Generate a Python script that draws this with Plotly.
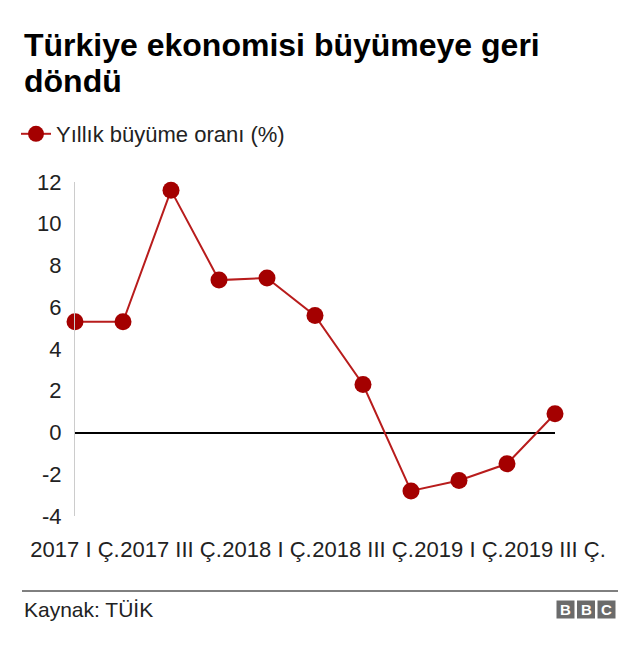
import plotly.graph_objects as go

categories = ["2017 I Ç.", "2017 II Ç.", "2017 III Ç.", "2017 IV Ç.",
              "2018 I Ç.", "2018 II Ç.", "2018 III Ç.", "2018 IV Ç.",
              "2019 I Ç.", "2019 II Ç.", "2019 III Ç."]
growth = [5.3, 5.3, 11.6, 7.3, 7.4, 5.6, 2.3, -2.8, -2.3, -1.5, 0.9]
tick_labels = categories[::2]
y_ticks = [-4, -2, 0, 2, 4, 6, 8, 10, 12]
y_tick_text = ["-4", "-2", "0", "2", "4", "6", "8", "10", "12"]

# page has an 8px body margin; figure is shrunk so page coords match target
OFF = 8
W, H = 640 - OFF, 650 - OFF
L, T = 75 - OFF, 182 - OFF
PW, PH = 480, 334
R, B = W - L - PW, H - T - PH

def xp(px):
    return (px - OFF - L) / PW

def yp(py):
    return (H - B - (py - OFF)) / PH

FONT = "Liberation Sans, Arial, sans-serif"

fig = go.Figure()
fig.add_trace(go.Scatter(
    x=categories, y=growth, mode="lines+markers",
    name="Yıllık büyüme oranı (%)",
    line=dict(color="#b81c1c", width=2),
    marker=dict(color="#a40000", size=17),
    cliponaxis=False,
))

shapes = [
    dict(type="line", xref="paper", yref="paper", x0=xp(22), x1=xp(618),
         y0=yp(591), y1=yp(591), line=dict(color="#000000", width=1)),
]
annotations = [
    dict(text="<b>Türkiye ekonomisi büyümeye geri</b>",
         xref="paper", yref="paper", x=xp(22), y=yp(45),
         xanchor="left", yanchor="middle", align="left", showarrow=False,
         font=dict(family=FONT, size=32, color="#000000")),
    dict(text="<b>döndü</b>",
         xref="paper", yref="paper", x=xp(22), y=yp(81),
         xanchor="left", yanchor="middle", align="left", showarrow=False,
         font=dict(family=FONT, size=32, color="#000000")),
    dict(text="Kaynak: TÜİK", xref="paper", yref="paper", x=xp(22), y=yp(609),
         xanchor="left", yanchor="middle", showarrow=False,
         font=dict(family=FONT, size=21, color="#222222")),
]
for i, letter in enumerate(["B", "B", "C"]):
    x0 = 556.5 + i * 20.5
    shapes.append(dict(type="rect", xref="paper", yref="paper",
                       x0=xp(x0), x1=xp(x0 + 18), y0=yp(618.5), y1=yp(600.5),
                       line=dict(width=0), fillcolor="#6b6b6b"))
    annotations.append(dict(text=f"<b>{letter}</b>", xref="paper", yref="paper",
                            x=xp(x0 + 9), y=yp(609.5), xanchor="center", yanchor="middle",
                            showarrow=False,
                            font=dict(family=FONT, size=15, color="#ffffff")))

fig.update_layout(
    width=W, height=H,
    margin=dict(l=L, r=R, t=T, b=B, autoexpand=False),
    paper_bgcolor="white", plot_bgcolor="white",
    showlegend=True,
    legend=dict(x=xp(16), y=yp(113), xanchor="left", yanchor="top",
                font=dict(family=FONT, size=22, color="#222222"),
                bgcolor="rgba(0,0,0,0)", itemwidth=30),
    xaxis=dict(type="category", categoryorder="array", categoryarray=categories,
               range=[0, len(categories) - 1], automargin=False,
               tickmode="array", tickvals=tick_labels, ticktext=tick_labels,
               tickangle=0,
               showgrid=False, showline=False, zeroline=False, ticks="",
               ticklabelstandoff=18,
               tickfont=dict(family=FONT, size=22, color="#222222")),
    yaxis=dict(range=[-4, 12], tickmode="array", tickvals=y_ticks, ticktext=y_tick_text,
               automargin=False,
               showgrid=False, showline=True, linecolor="#cccccc", linewidth=1,
               zeroline=True, zerolinecolor="#000000", zerolinewidth=2,
               ticks="", ticklabelstandoff=8,
               tickfont=dict(family=FONT, size=22, color="#222222")),
    shapes=shapes, annotations=annotations,
)

fig.write_html("out.html")
